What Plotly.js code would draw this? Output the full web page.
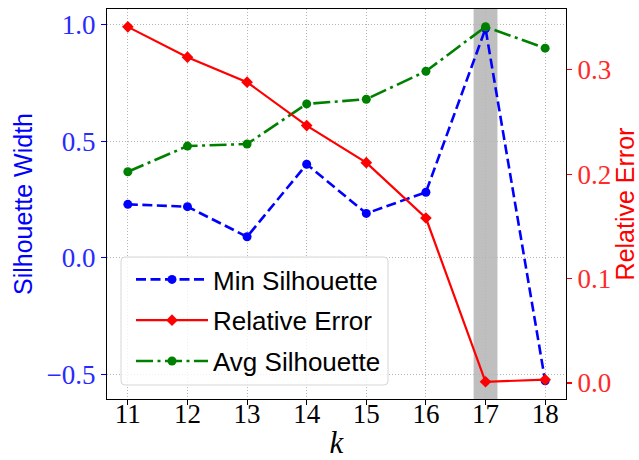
<!DOCTYPE html>
<html>
<head>
<meta charset="utf-8">
<script src="https://cdn.plot.ly/plotly-3.0.1.min.js"></script>
<style>html,body{margin:0;padding:0;background:#fff;}#chart{width:639px;height:460px;}</style>
</head>
<body>
<div id="chart"></div>
<script>
// Data
const kValues = [11, 12, 13, 14, 15, 16, 17, 18];
const minSilhouette = [0.229, 0.219, 0.090, 0.401, 0.190, 0.281, 0.983, -0.528];
const avgSilhouette = [0.369, 0.479, 0.488, 0.660, 0.680, 0.800, 0.991, 0.899];
const relativeError = [0.341, 0.312, 0.288, 0.2465, 0.211, 0.158, 0.0012, 0.0032];
const highlightK = 17;
const xTickVals = [11, 12, 13, 14, 15, 16, 17, 18];
const yTickVals = [-0.5, 0.0, 0.5, 1.0];
const y2TickVals = [0.0, 0.1, 0.2, 0.3];

const serif = "'Liberation Serif', 'DejaVu Serif', serif";
const sans = "'Liberation Sans', 'DejaVu Sans', sans-serif";

const traces = [
  {
    x: kValues, y: minSilhouette, name: 'Min Silhouette', yaxis: 'y',
    mode: 'lines+markers', legendrank: 1, legendgroup: 'a',
    line: {color: '#0000ff', width: 2.6, dash: '10px,4.5px'},
    marker: {color: '#0000ff', size: 9, symbol: 'circle'}
  },
  {
    x: kValues, y: avgSilhouette, name: 'Avg Silhouette', yaxis: 'y',
    mode: 'lines+markers', legendrank: 3, legendgroup: 'c',
    line: {color: '#008000', width: 2.6, dash: '17px,4.5px,3px,4.5px'},
    marker: {color: '#008000', size: 9, symbol: 'circle'}
  },
  {
    x: kValues, y: relativeError, name: 'Relative Error', yaxis: 'y2',
    mode: 'lines+markers', legendrank: 2, legendgroup: 'b',
    line: {color: '#ff0000', width: 2.2},
    marker: {color: '#ff0000', size: 9, symbol: 'diamond'}
  }
];

const L = 107, R = 73, T = 9, B = 61;
const W = 639, H = 460;
const pw = W - L - R, ph = H - T - B;
function px2x(p){ return (p - L) / pw; }
function py2y(p){ return (H - B - p) / ph; }

// rounded legend frame (paper coordinates)
const bx0 = px2x(121), bx1 = px2x(388), by0 = py2y(385), by1 = py2y(257);
const rr = 4;
const rx = rr / pw, ry = rr / ph;
const framePath =
  `M${bx0+rx},${by0} L${bx1-rx},${by0} Q${bx1},${by0} ${bx1},${by0+ry} L${bx1},${by1-ry} Q${bx1},${by1} ${bx1-rx},${by1} ` +
  `L${bx0+rx},${by1} Q${bx0},${by1} ${bx0},${by1-ry} L${bx0},${by0+ry} Q${bx0},${by0} ${bx0+rx},${by0} Z`;

const gridCol = '#b4b4b4';

const layout = {
  width: W, height: H,
  margin: {l: L, r: R, t: T, b: B},
  paper_bgcolor: '#ffffff', plot_bgcolor: '#ffffff',
  showlegend: true,
  legend: {
    x: px2x(131), y: py2y(256), xanchor: 'left', yanchor: 'top',
    bgcolor: 'rgba(0,0,0,0)', borderwidth: 0,
    font: {family: sans, size: 26, color: '#000000'},
    tracegroupgap: 4, traceorder: 'grouped', itemwidth: 72
  },
  xaxis: {
    range: [10.65, 18.35], tickvals: xTickVals, ticktext: xTickVals.map(String),
    showline: true, mirror: true, linecolor: '#000000', linewidth: 1.2,
    ticks: 'outside', ticklen: 5, tickwidth: 1.1, tickcolor: '#000000',
    showgrid: true, gridcolor: gridCol, gridwidth: 1, griddash: '1px,2px',
    zeroline: false, ticklabelstandoff: -15,
    tickfont: {family: serif, size: 27, color: '#000000'},
    title: {text: 'k', font: {family: serif, size: 31, color: '#000000', style: 'italic'}, standoff: 27}
  },
  yaxis: {
    range: [-0.606, 1.067], tickvals: yTickVals, tickformat: '.1f',
    showline: true, linecolor: '#000000', linewidth: 1.2,
    ticks: 'outside', ticklen: 5, tickwidth: 1.1, tickcolor: '#0000ff',
    showgrid: true, gridcolor: gridCol, gridwidth: 1, griddash: '1px,2px',
    zeroline: false,
    tickfont: {family: serif, size: 27, color: '#2a2aff'},
    title: {text: 'Silhouette Width', font: {family: sans, size: 25, color: '#0000ff'}, standoff: 6}
  },
  yaxis2: {
    range: [-0.0153, 0.3581], tickvals: y2TickVals, tickformat: '.1f',
    overlaying: 'y', side: 'right',
    showline: true, linecolor: '#000000', linewidth: 1.2,
    ticks: 'outside', ticklen: 5, tickwidth: 1.1, tickcolor: '#ff0000',
    showgrid: false, zeroline: false,
    tickfont: {family: serif, size: 27, color: '#ff2a2a'},
    title: {text: 'Relative Error', font: {family: sans, size: 25, color: '#ff0000'}, standoff: 4}
  },
  shapes: [
    {
      type: 'rect', xref: 'x', yref: 'paper', x0: highlightK - 0.2, x1: highlightK + 0.2, y0: 0, y1: 1,
      fillcolor: '#bfbfbf', line: {width: 0}, layer: 'between'
    },
    {
      type: 'path', xref: 'paper', yref: 'paper', layer: 'above', path: framePath,
      fillcolor: 'rgba(255,255,255,0.8)', line: {color: '#d6d6d6', width: 1}
    }
  ]
};

Plotly.newPlot('chart', traces, layout, {displayModeBar: false, staticPlot: true});
</script>
</body>
</html>
